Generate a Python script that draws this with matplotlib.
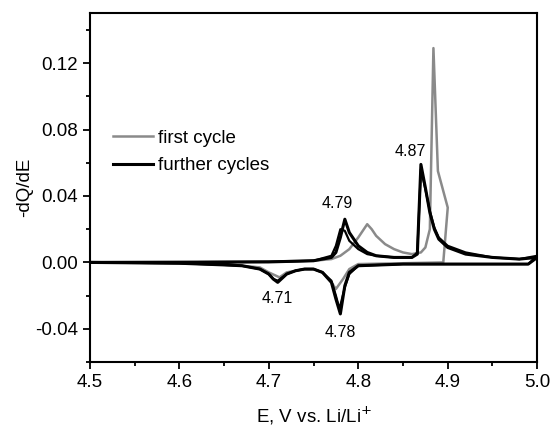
import matplotlib
matplotlib.use("Agg")
import matplotlib.pyplot as plt
from matplotlib.ticker import MultipleLocator, FormatStrFormatter

plt.rcParams['font.family'] = ['Liberation Sans', 'DejaVu Sans']

# first cycle: charge then discharge
first_E = [4.50, 4.60, 4.70, 4.75, 4.77, 4.78, 4.79, 4.80, 4.805, 4.81, 4.815, 4.82,
           4.83, 4.84, 4.85, 4.86, 4.87, 4.875, 4.880, 4.884, 4.889, 4.900, 4.895,
           4.85, 4.80, 4.79, 4.783, 4.775, 4.77, 4.76, 4.75, 4.74, 4.73, 4.72, 4.712,
           4.70, 4.69, 4.65, 4.60, 4.50]
first_dq = [0.0, 0.0, 0.0005, 0.001, 0.002, 0.004, 0.008, 0.015, 0.019, 0.023, 0.020, 0.016,
            0.011, 0.008, 0.006, 0.005, 0.006, 0.009, 0.020, 0.129, 0.055, 0.033, 0.0,
            -0.0005, -0.001, -0.004, -0.010, -0.016, -0.012, -0.006, -0.004, -0.004, -0.005, -0.006, -0.009,
            -0.006, -0.003, -0.001, -0.0005, 0.0]

# further cycles (two overlapping cycles)
cyc2_E = [4.50, 4.70, 4.75, 4.77, 4.775, 4.780, 4.785, 4.79, 4.80, 4.81, 4.82, 4.84,
          4.86, 4.866, 4.870, 4.875, 4.88, 4.885, 4.89, 4.90, 4.92, 4.95, 4.98, 5.00,
          4.99, 4.95, 4.90, 4.85, 4.80, 4.79, 4.785, 4.780, 4.775, 4.77, 4.76, 4.75,
          4.74, 4.73, 4.72, 4.710, 4.705, 4.70, 4.69, 4.67, 4.65, 4.60, 4.50]
cyc2_dq = [0.0, 0.0003, 0.001, 0.003, 0.006, 0.015, 0.026, 0.018, 0.010, 0.006, 0.004, 0.003,
           0.003, 0.005, 0.059, 0.045, 0.030, 0.020, 0.014, 0.009, 0.005, 0.003, 0.002, 0.003,
           -0.001, -0.001, -0.001, -0.001, -0.002, -0.006, -0.014, -0.031, -0.022, -0.012, -0.006, -0.004,
           -0.004, -0.005, -0.007, -0.012, -0.010, -0.007, -0.004, -0.002, -0.0015, -0.0005, 0.0]

cyc3_E = [4.50, 4.70, 4.75, 4.77, 4.775, 4.780, 4.785, 4.79, 4.80, 4.81, 4.82, 4.84,
          4.86, 4.866, 4.870, 4.875, 4.88, 4.885, 4.89, 4.90, 4.92, 4.95, 4.98, 5.00,
          4.99, 4.95, 4.90, 4.85, 4.80, 4.79, 4.785, 4.779, 4.775, 4.77, 4.76, 4.75,
          4.74, 4.73, 4.72, 4.710, 4.705, 4.70, 4.69, 4.67, 4.65, 4.60, 4.50]
cyc3_dq = [0.0, 0.0003, 0.001, 0.004, 0.010, 0.020, 0.019, 0.013, 0.008, 0.005, 0.004, 0.003,
           0.003, 0.006, 0.056, 0.044, 0.031, 0.021, 0.015, 0.010, 0.006, 0.003, 0.002, 0.004,
           -0.001, -0.001, -0.001, -0.001, -0.002, -0.007, -0.015, -0.028, -0.020, -0.011, -0.006, -0.004,
           -0.004, -0.005, -0.007, -0.011, -0.010, -0.007, -0.004, -0.002, -0.0015, -0.0005, 0.0]

labels = ["4.87", "4.79", "4.71", "4.78"]
label_E = [4.858, 4.776, 4.710, 4.780]
label_dq = [0.067, 0.0355, -0.0217, -0.042]

fig = plt.figure(figsize=(5.51, 4.26), dpi=100)
ax = fig.add_axes([0.163, 0.150, 0.812, 0.819])

ax.plot(first_E, first_dq, color='#8a8a8a', lw=1.8, label='first cycle')
ax.plot(cyc2_E, cyc2_dq, color='black', lw=2.2, label='further cycles')
ax.plot(cyc3_E, cyc3_dq, color='black', lw=1.6)

for t, x, y in zip(labels, label_E, label_dq):
    ax.text(x, y, t, ha='center', va='center', fontsize=11.5)

ax.set_xlim(4.5, 5.0)
ax.set_ylim(-0.06, 0.15)
ax.xaxis.set_major_locator(MultipleLocator(0.1))
ax.xaxis.set_minor_locator(MultipleLocator(0.05))
ax.yaxis.set_major_locator(MultipleLocator(0.04))
ax.yaxis.set_minor_locator(MultipleLocator(0.02))
ax.xaxis.set_major_formatter(FormatStrFormatter('%.1f'))
ax.yaxis.set_major_formatter(FormatStrFormatter('%.2f'))
ax.tick_params(which='both', direction='out', width=1.3, labelsize=13.5, top=False, right=False)
ax.tick_params(which='major', length=5)
ax.tick_params(which='minor', length=3)
for s in ax.spines.values():
    s.set_linewidth(1.5)

ax.set_xlabel('E, V vs. Li/Li$^{+}$', fontsize=13.5, labelpad=10)
ax.set_ylabel('-dQ/dE', fontsize=13.5, labelpad=1)

ax.legend(loc='upper left', bbox_to_anchor=(0.015, 0.715), frameon=False, fontsize=13.5,
          handlelength=2.1, handletextpad=0.3, labelspacing=0.55)

fig.savefig('out.png', dpi=100)
